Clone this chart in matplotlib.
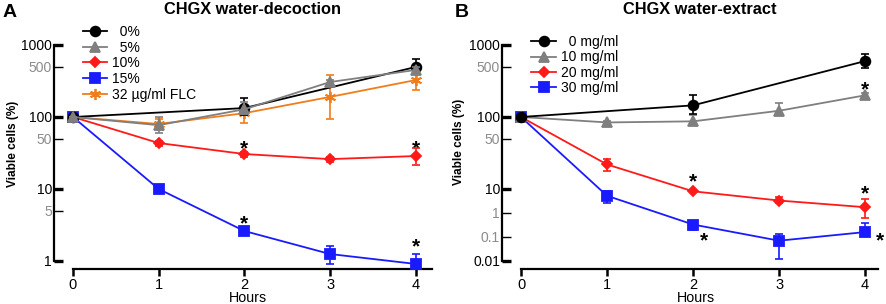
import numpy as np
import matplotlib
matplotlib.use('Agg')
from matplotlib import pyplot as plt

plt.rcParams['font.family'] = ['Liberation Sans', 'DejaVu Sans']

# ---- panel A: CHGX water-decoction ----
hours = [0, 1, 2, 3, 4]
hours_ctrl = [0, 2, 4]

a_labels = ['  0%', '  5%', '10%', '15%', '32 \u00b5g/ml FLC']
a_ctrl = [100, 133, 495]
a_ctrl_lo = [100, 105, 420]
a_ctrl_hi = [100, 183, 640]
a_5 = [100, 77, 128, 306, 450]
a_5_lo = [100, 60, 110, 280, 420]
a_5_hi = [100, 100, 160, 330, 500]
a_10 = [100, 43.5, 30.6, 26, 28.7]
a_10_lo = [100, 40, 28, 24, 21.6]
a_10_hi = [100, 47, 33, 28, 37]
a_15 = [100, 10, 2.61, 1.25, 0.91]
a_15_lo = [100, 10, 2.5, 0.91, 0.75]
a_15_hi = [100, 10, 2.75, 1.6, 1.25]
a_flc = [100, 80, 113, 190, 326]
a_flc_lo = [100, 65, 83, 94, 237]
a_flc_hi = [100, 95, 130, 380, 400]

# ---- panel B: CHGX water-extract ----
b_labels = ['  0 mg/ml', '10 mg/ml', '20 mg/ml', '30 mg/ml']
b_ctrl = [100, 145, 598]
b_ctrl_lo = [100, 110, 477]
b_ctrl_hi = [100, 201, 750]
b_10 = [100, 84, 87, 122, 200]
b_10_lo = [100, 80, 80, 110, 190]
b_10_hi = [100, 88, 106, 155, 215]
b_20 = [100, 21.9, 8.0, 3.3, 1.74]
b_20_lo = [100, 18, 7.5, 2.5, 0.63]
b_20_hi = [100, 26.5, 8.6, 4.5, 3.9]
b_30 = [100, 5.2, 0.33, 0.07, 0.16]
b_30_lo = [100, 2.7, 0.19, 0.012, 0.12]
b_30_hi = [100, 8, 0.48, 0.13, 0.4]

BLACK = '#000000'
GRAY = '#7f7f7f'
RED = '#ff1a1a'
BLUE = '#1a1aff'
ORANGE = '#ef7d1c'
ast = (6, 2, 0)


def fwd(y):
    ly = np.log10(np.maximum(np.asarray(y, dtype=float), 1e-12))
    return np.where(ly >= 1, ly, 1 + (ly - 1) / 3)


def inv(f):
    f = np.asarray(f, dtype=float)
    return np.where(f >= 1, 10 ** f, 10 ** (1 + 3 * (f - 1)))


W, H = 886, 304
fig = plt.figure(figsize=(W / 100, H / 100), dpi=100)


def axes_px(left, right, top, bottom):
    return fig.add_axes([left / W, 1 - bottom / H, (right - left) / W, (bottom - top) / H])


def series(ax, x, y, lo, hi, color, marker, ms, label, z):
    y = np.array(y)
    err = [y - np.array(lo), np.array(hi) - y]
    ax.errorbar(x, y, yerr=err, fmt='none', ecolor=color, elinewidth=1.2,
                capsize=3, capthick=1.2, zorder=z)
    ax.plot(x, y, color=color, lw=1.3, marker=marker, ms=ms, mec=color,
            mew=1.3, label=label, zorder=z + 0.5)


def style(ax, xmax):
    for s in ['top', 'right']:
        ax.spines[s].set_visible(False)
    ax.spines['left'].set_linewidth(1.6)
    ax.spines['bottom'].set_linewidth(1.6)
    ax.spines['bottom'].set_bounds(0, xmax)
    ax.set_xticks(hours)
    ax.tick_params(axis='x', direction='out', length=5, width=1.8, labelsize=10.5, pad=1.2)
    ax.tick_params(axis='y', which='major', direction='in', length=6.5, width=2.4,
                   labelsize=10, pad=1.5)
    ax.tick_params(axis='y', which='minor', direction='in', length=6.5, width=1.0,
                   labelsize=10, pad=1.5, labelcolor='#8c8c8c')


def star(ax, x, y, dx, dy):
    # dx, dy in pixels from the data point to the star centre
    ax.annotate('*', (x, y), xytext=(dx * 0.72, (dy - 10) * 0.72), textcoords='offset points',
                ha='center', va='baseline', fontsize=15, fontweight='bold', annotation_clip=False)


# panel A
axA = axes_px(54, 432, 23.4, 269)
axA.set_yscale('log')
series(axA, hours, a_flc, a_flc_lo, a_flc_hi, ORANGE, ast, 8, a_labels[4], 2)
series(axA, hours, a_15, a_15_lo, a_15_hi, BLUE, 's', 6.5, a_labels[3], 3)
series(axA, hours, a_10, a_10_lo, a_10_hi, RED, 'D', 5, a_labels[2], 4)
series(axA, hours_ctrl, a_ctrl, a_ctrl_lo, a_ctrl_hi, BLACK, 'o', 7, a_labels[0], 5)
series(axA, hours, a_5, a_5_lo, a_5_hi, GRAY, '^', 7, a_labels[1], 6)
axA.set_xlim((54 - 73) / 85.75, 4.19)
axA.set_ylim(10 ** (-8 / 72), 10 ** 3.3)
axA.spines['left'].set_bounds(1, 1000)
style(axA, 4.19)
axA.set_yticks([1, 10, 100, 1000], ['1', '10', '100', '1000'])
axA.set_yticks([5, 50, 500], ['5', '50', '500'], minor=True)
hA, lA = axA.get_legend_handles_labels()
order = [lA.index(l) for l in a_labels]
axA.legend([hA[i] for i in order], [lA[i] for i in order], loc='upper left',
           bbox_to_anchor=((83 - 54) / 378, 1 - (25 - 23.4) / 245.6), frameon=False,
           fontsize=10, borderpad=0, borderaxespad=0, labelspacing=0.12,
           handlelength=1.75, handletextpad=0.35)
star(axA, 2, a_10[2], 0, 10)
star(axA, 2, a_15[2], 0, 12)
star(axA, 4, a_10[4], 0, 12)
star(axA, 4, a_15[4], 0, 22)

# panel B
axB = axes_px(502, 878, 23.4, 269)
axB.set_yscale('function', functions=(fwd, inv))
series(axB, hours, b_30, b_30_lo, b_30_hi, BLUE, 's', 6.5, b_labels[3], 3)
series(axB, hours, b_20, b_20_lo, b_20_hi, RED, 'D', 5, b_labels[2], 4)
series(axB, hours, b_10, b_10_lo, b_10_hi, GRAY, '^', 7, b_labels[1], 5)
series(axB, hours_ctrl, b_ctrl, b_ctrl_lo, b_ctrl_hi, BLACK, 'o', 7, b_labels[0], 6)
axB.set_xlim((502 - 521) / 86, 4.15)
axB.set_ylim(float(inv(-8 / 71.7)), float(inv(3.3)))
axB.spines['left'].set_bounds(0.01, 1000)
style(axB, 4.15)
axB.set_yticks([0.01, 10, 100, 1000], ['0.01', '10', '100', '1000'])
axB.set_yticks([0.1, 1, 50, 500], ['0.1', '1', '50', '500'], minor=True)
hB, lB = axB.get_legend_handles_labels()
order = [lB.index(l) for l in b_labels]
axB.legend([hB[i] for i in order], [lB[i] for i in order], loc='upper left',
           bbox_to_anchor=((531 - 502) / 376, 1 - (35 - 23.4) / 245.6), frameon=False,
           fontsize=10, borderpad=0, borderaxespad=0, labelspacing=0.1,
           handlelength=1.8, handletextpad=0.35)
star(axB, 4, b_10[4], 0, 10)
star(axB, 2, b_20[2], 0, 14)
star(axB, 4, b_20[4], 0, 18)
star(axB, 2, b_30[2], 11, -12)
star(axB, 4, b_30[4], 15, -4)

# text
def ftext(x, y, s, **kw):
    fig.text(x / W, 1 - y / H, s, ha='center', va='center', **kw)


ftext(10, 12.5, 'A', fontsize=14, fontweight='bold')
ftext(462, 12.5, 'B', fontsize=14, fontweight='bold')
ftext(252, 9.5, 'CHGX water-decoction', fontsize=11.8, fontweight='bold')
ftext(700, 9.5, 'CHGX water-extract', fontsize=11.8, fontweight='bold')
ftext(13, 144, 'Viable cells (%)', fontsize=8.5, fontweight='bold', rotation=90)
ftext(459, 142, 'Viable cells (%)', fontsize=8.5, fontweight='bold', rotation=90)
ftext(248, 297.5, 'Hours', fontsize=10.3)
ftext(696, 297.5, 'Hours', fontsize=10.3)

fig.savefig('out.png', dpi=100)
